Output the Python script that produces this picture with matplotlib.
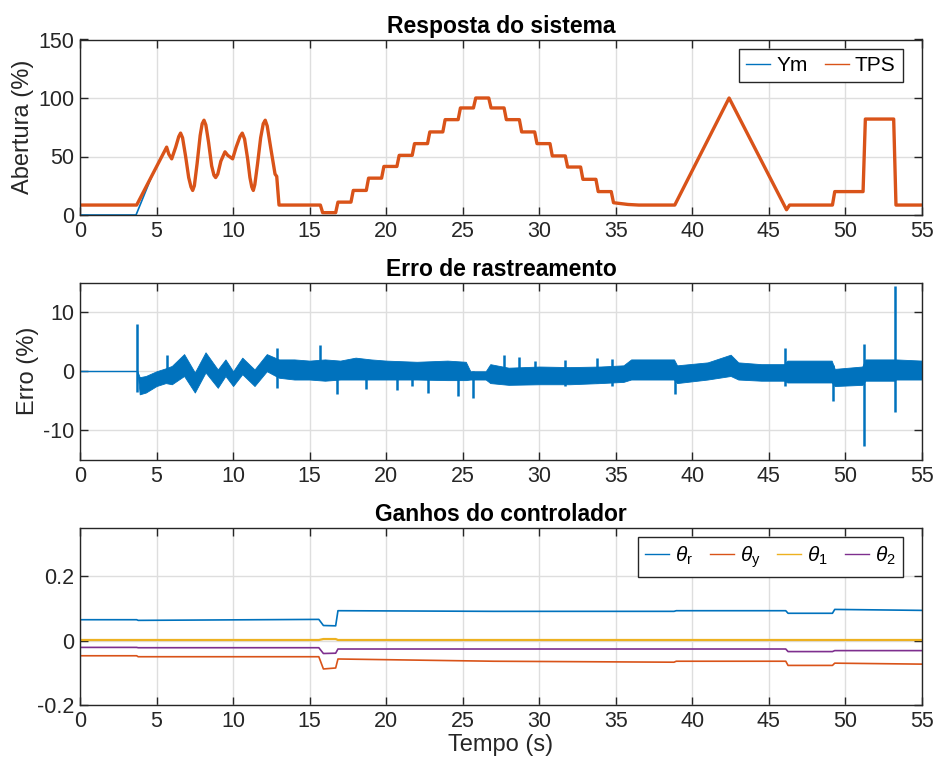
import numpy as np
import matplotlib
matplotlib.use("Agg")
import matplotlib.pyplot as plt

plt.rcParams['font.family'] = ['Liberation Sans', 'DejaVu Sans']
plt.rcParams['mathtext.fontset'] = 'custom'
plt.rcParams['mathtext.rm'] = 'Liberation Sans'
plt.rcParams['mathtext.it'] = 'Liberation Sans:italic'

# --- Resposta do sistema (abertura %) ---
tps_t = [0, 3.7, 5.66, 5.8, 5.99, 6.25, 6.45, 6.57, 6.7, 6.9, 7.1, 7.25, 7.36, 7.47, 7.65,
         7.85, 7.98, 8.1, 8.22, 8.4, 8.6, 8.75, 8.86, 9.0, 9.2, 9.47, 9.65, 9.97, 10.2,
         10.45, 10.6, 10.75, 10.95, 11.1, 11.22, 11.32, 11.42, 11.6, 11.8, 11.97, 12.1,
         12.23, 12.45, 12.74, 12.85, 13.0, 15.7, 15.85, 16.7, 16.85, 17.7, 17.85, 18.7,
         18.85, 19.7, 19.85, 20.7, 20.85, 21.7, 21.85, 22.7, 22.85, 23.7, 23.85, 24.7,
         24.85, 25.7, 25.85, 26.7, 26.85, 27.7, 27.85, 28.7, 28.85, 29.7, 29.85, 30.7,
         30.85, 31.7, 31.85, 32.7, 32.85, 33.7, 33.85, 34.7, 34.85, 35.8, 36.5, 38.85,
         42.4, 46.15, 46.35, 49.15, 49.3, 51.15, 51.3, 53.15, 53.3, 55]
tps_v = [8.5, 8.5, 58, 52, 48, 58, 67, 70, 66, 50, 32, 24, 21, 25, 44,
         68, 78, 81, 77, 62, 42, 34, 32, 35, 46, 54, 51, 48, 58,
         67, 70, 65, 48, 32, 24, 21, 26, 44, 66, 78, 81,
         76, 58, 35, 33, 8.5, 8.5, 2, 2, 11, 11, 21, 21,
         31.5, 31.5, 41.5, 41.5, 51, 51, 61, 61, 71, 71, 81.5, 81.5,
         91.5, 91.5, 100, 100, 91.5, 91.5, 81.5, 81.5, 71, 71, 61, 61,
         50.5, 50.5, 41, 41, 30.5, 30.5, 20, 20, 10.5, 9, 8.5, 8.5,
         100, 4.5, 8.5, 8.5, 20, 20, 82, 82, 8.5, 8.5]
ym_head_t = [0, 3.66, 4.7]
ym_head_v = [0, 0, 33.5]

# --- Erro de rastreamento (envelope of the noisy band) ---
err_t = [3.75, 3.9, 4.3, 5.0, 5.6, 6.0, 6.8, 7.5, 8.2, 9.0, 9.5, 10.0, 10.6, 11.4, 12.2,
         13.0, 14.0, 15.0, 16.0, 17.0, 18.0, 19.0, 20.0, 22.0, 24.0, 25.2, 25.5, 26.5,
         26.8, 28.0, 30.0, 32.0, 34.0, 35.5, 36.0, 38.8, 39.0, 41.0, 42.5, 43.0, 44.5,
         46.0, 46.2, 48.0, 49.1, 49.3, 51.1, 51.3, 53.2, 53.3, 55.0]
err_hi = [0, -1.0, -0.8, 0, 0.5, 0.9, 2.9, -0.2, 3.2, 0.3, 2.0, 0.0, 2.3, 0.3, 2.9,
          2.0, 2.0, 1.8, 2.0, 1.8, 2.3, 2.0, 1.8, 1.6, 1.8, 1.6, 0.0, 0.0,
          1.2, 0.6, 0.8, 0.7, 0.8, 1.0, 2.0, 2.0, 1.0, 1.5, 2.8, 1.5, 1.2,
          1.2, 1.8, 1.8, 1.8, 0.4, 0.8, 2.0, 2.0, 2.0, 1.8]
err_lo = [0, -3.9, -3.6, -2.5, -2.0, -2.2, -0.8, -3.6, -0.2, -2.8, -0.8, -2.5, -0.5, -2.5, 0.0,
          -1.1, -1.4, -1.4, -1.6, -1.4, -1.4, -1.4, -1.4, -1.4, -1.5, -1.5, -1.4, -1.4,
          -2.0, -2.3, -2.2, -2.2, -2.0, -1.8, -1.4, -1.4, -2.0, -1.4, -0.8, -1.4, -1.6,
          -1.6, -1.9, -1.9, -1.9, -2.5, -2.3, -1.6, -1.6, -1.4, -1.4]
spike_t = [3.72, 5.7, 12.9, 15.7, 16.8, 18.7, 20.7, 21.7, 22.75, 24.7, 25.7, 27.7, 28.7,
           29.7, 31.7, 33.75, 34.75, 38.86, 46.05, 49.2, 51.2, 53.23]
spike_lo = [-3.5, -0.5, -2.8, -1.0, -3.9, -3.0, -3.2, -2.5, -3.6, -4.2, -4.5, -2.0, -2.0,
            -2.0, -2.5, -2.0, -2.5, -3.9, -2.5, -5.1, -12.6, -6.9]
spike_hi = [8.0, 2.7, 3.9, 4.5, 1.0, 1.0, 1.0, 1.0, 1.0, 1.0, 0.0, 2.7, 2.4,
            1.8, 1.9, 2.2, 2.0, 1.0, 4.0, 1.0, 4.6, 14.4]

# --- Ganhos do controlador ---
th_t = [0, 3.7, 3.8, 15.6, 15.9, 16.7, 16.85, 27, 38.8, 38.95, 46.1, 46.25, 49.15, 49.3, 55]
theta_r = [0.065, 0.065, 0.063, 0.066, 0.047, 0.046, 0.093, 0.091, 0.091, 0.093, 0.093,
           0.085, 0.085, 0.097, 0.094]
theta_y = [-0.047, -0.047, -0.050, -0.050, -0.088, -0.085, -0.057, -0.064, -0.067, -0.064,
           -0.064, -0.077, -0.077, -0.070, -0.073]
theta_1 = [0.002, 0.002, 0.002, 0.002, 0.005, 0.005, 0.002, 0.002, 0.002, 0.002, 0.002,
           0.002, 0.002, 0.002, 0.002]
theta_2 = [-0.021, -0.021, -0.022, -0.022, -0.040, -0.039, -0.026, -0.026, -0.026, -0.026,
           -0.026, -0.034, -0.034, -0.031, -0.031]

blue, orange, yellow, purple = '#0072BD', '#D95319', '#EDB120', '#7E2F8E'
dark = '#262626'

ym_t = ym_head_t + [t for t in tps_t if t > ym_head_t[-1]]
ym_v = ym_head_v + [v for t, v in zip(tps_t, tps_v) if t > ym_head_t[-1]]

fig = plt.figure(figsize=(9.36, 7.67), dpi=100)
W, H = 936, 767


def make_ax(top, bottom):
    ax = fig.add_axes([80 / W, 1 - bottom / H, 842 / W, (bottom - top) / H])
    ax.set_xlim(0, 55)
    ax.set_xticks(np.arange(0, 56, 5))
    ax.grid(True, color='#dedede', linewidth=1)
    ax.set_axisbelow(True)
    ax.tick_params(direction='in', length=6, width=1, top=True, right=True,
                   labelsize=15.5, colors=dark, pad=4)
    for s in ax.spines.values():
        s.set_color(dark)
        s.set_linewidth(1)
    return ax


def make_legend(ax, anchor, ncol):
    leg = ax.legend(loc='upper right', bbox_to_anchor=anchor, borderaxespad=0,
                    ncol=ncol, fontsize=15, fancybox=False, edgecolor=dark, framealpha=1,
                    handlelength=1.15, columnspacing=0.8, handletextpad=0.3,
                    borderpad=0.35)
    leg.get_frame().set_linewidth(1)
    for line in leg.get_lines():
        line.set_linewidth(1)
    return leg


ax1 = make_ax(39.5, 215)
ax1.plot(ym_t, ym_v, color=blue, lw=1.2, label='Ym')
ax1.plot(tps_t, tps_v, color=orange, lw=2.4, label='TPS')
ax1.set_ylim(0, 150)
ax1.set_yticks([0, 50, 100, 150])
ax1.set_yticklabels(['0', '50', '100', '150'])
ax1.set_ylabel('Abertura (%)', fontsize=17, color=dark, labelpad=3)
ax1.set_title('Resposta do sistema', fontsize=16.5, fontweight='bold', pad=5)
make_legend(ax1, (0.9774, 0.947), 2)

ax2 = make_ax(282.5, 460)
ax2.plot([0, 3.72], [0, 0], color=blue, lw=1)
ax2.fill_between(err_t, err_lo, err_hi, color=blue, lw=0.6, edgecolor=blue)
ax2.vlines(spike_t, spike_lo, spike_hi, color=blue, lw=1.8)
ax2.set_ylim(-15, 15)
ax2.set_yticks([-10, 0, 10])
ax2.set_yticklabels(['-10', '0', '10'])
ax2.set_ylabel('Erro (%)', fontsize=17, color=dark, labelpad=3)
ax2.set_title('Erro de rastreamento', fontsize=16.5, fontweight='bold', pad=5)

ax3 = make_ax(528, 705)
ax3.plot(th_t, theta_r, color=blue, lw=1.2, label=r'$\theta_{\mathrm{r}}$')
ax3.plot(th_t, theta_y, color=orange, lw=1.2, label=r'$\theta_{\mathrm{y}}$')
ax3.plot(th_t, theta_1, color=yellow, lw=1.6, label=r'$\theta_{\mathrm{1}}$')
ax3.plot(th_t, theta_2, color=purple, lw=1.2, label=r'$\theta_{\mathrm{2}}$')
ax3.set_ylim(-0.2, 0.35)
ax3.set_yticks([-0.2, 0, 0.2])
ax3.set_yticklabels(['-0.2', '0', '0.2'])
ax3.set_xlabel('Tempo (s)', fontsize=17, color=dark, labelpad=2)
ax3.set_title('Ganhos do controlador', fontsize=16.5, fontweight='bold', pad=5)
make_legend(ax3, (0.9774, 0.949), 4)

fig.savefig('out.png', dpi=100)
